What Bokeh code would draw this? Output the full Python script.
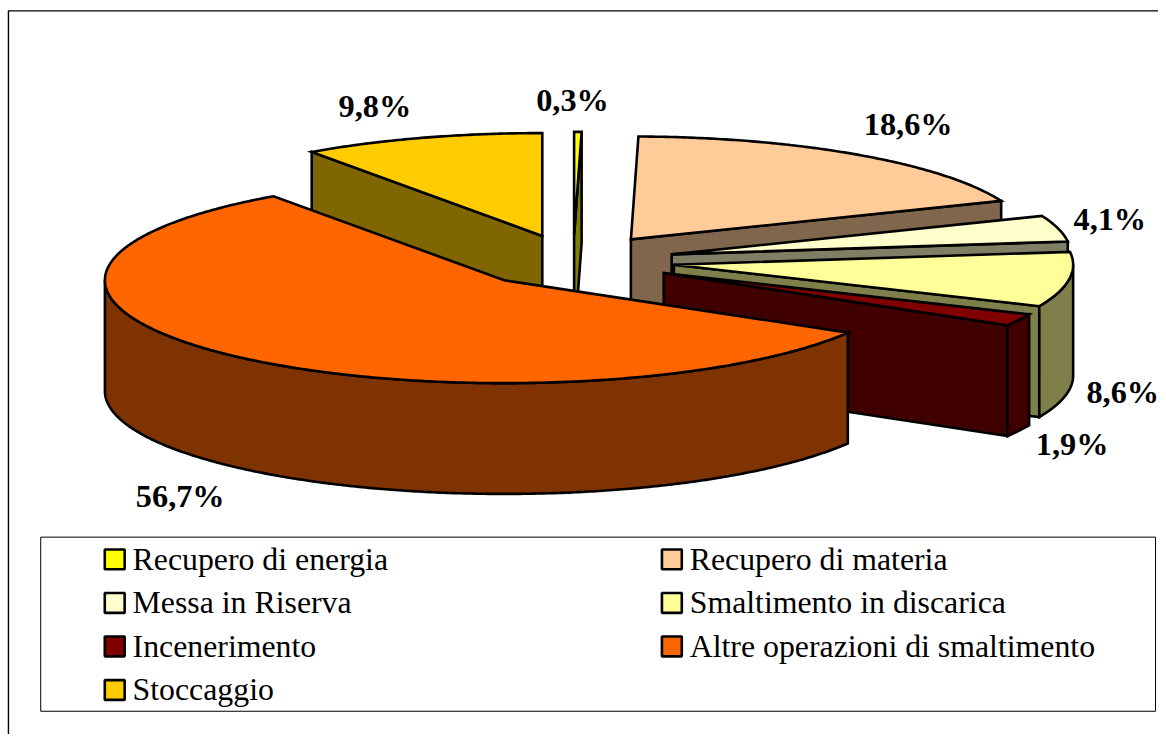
import math
from bokeh.plotting import figure
from bokeh.models import Range1d, ColumnDataSource
from bokeh.core.properties import value
from bokeh.embed import file_html
from bokeh.resources import INLINE

categories = ["Recupero di energia", "Recupero di materia", "Messa in Riserva",
              "Smaltimento in discarica", "Incenerimento",
              "Altre operazioni di smaltimento", "Stoccaggio"]
values = [0.3, 18.6, 4.1, 8.6, 1.9, 56.7, 9.8]
colors = ["#FFFF00", "#FFCC99", "#FFFFCC", "#FFFF99", "#800000", "#FF6600", "#FFCC00"]

# pie geometry (in the reference picture's pixels)
CX, CY, A, B, DEPTH, EXPLODE = 576.6, 263.3, 402, 104, 112, 0.255
LABEL_POS = [(576, 100.5), (914, 124.5), (1117, 220.5), (1130, 395.5), (1079, 448.5), (181, 500.5), (377, 106.5)]
LEG_X = [104, 665]
LEG_Y0, LEG_DY = 565, 44
FONT = value("Liberation Serif")

p = figure(width=1158, height=734, output_backend="svg", toolbar_location=None,
           x_range=Range1d(0, 1166), y_range=Range1d(742, 0),
           x_axis_type=None, y_axis_type=None, min_border=0,
           outline_line_color=None, background_fill_color="white")
p.grid.visible = False


def darker(c):
    return "#" + "".join("%02X" % (int(c[i:i + 2], 16) // 2) for i in (1, 3, 5))


def pt(cx, cy, deg, dz=0):
    t = math.radians(deg)
    return cx + A * math.sin(t), cy - B * math.cos(t) + dz


def arc(cx, cy, d0, d1, dz=0):
    n = max(2, int(abs(d1 - d0) * 2) + 1)
    return [pt(cx, cy, d0 + (d1 - d0) * i / (n - 1), dz) for i in range(n)]


total = sum(values)
slices, start = [], 0.0
for v, c in zip(values, colors):
    end = start + 360 * v / total
    t = math.radians((start + end) / 2)
    slices.append(dict(s=start, e=end, c=c,
                       ax=CX + EXPLODE * A * math.sin(t),
                       ay=CY - EXPLODE * B * math.cos(t)))
    start = end

xs, ys, fills = [], [], []


def add(points, col):
    xs.append([q[0] for q in points])
    ys.append([q[1] for q in points])
    fills.append(col)


for sl in sorted(slices, key=lambda d: d["ay"]):
    ax, ay, s, e, c = sl["ax"], sl["ay"], sl["s"], sl["e"], sl["c"]
    dark = darker(c)
    if 180 < s < 360:
        q = pt(ax, ay, s)
        add([(ax, ay), q, (q[0], q[1] + DEPTH), (ax, ay + DEPTH)], dark)
    if 0 < e < 180:
        q = pt(ax, ay, e)
        add([(ax, ay), q, (q[0], q[1] + DEPTH), (ax, ay + DEPTH)], dark)
    lo, hi = max(s, 90), min(e, 270)
    if lo < hi:
        add(arc(ax, ay, lo, hi) + arc(ax, ay, hi, lo, DEPTH), dark)
    add([(ax, ay)] + arc(ax, ay, s, e), c)

p.patches(xs="xs", ys="ys", fill_color="fills", line_color="black", line_width=2.6,
          line_join="miter", source=ColumnDataSource(dict(xs=xs, ys=ys, fills=fills)))

# percentage labels
p.text(x=[q[0] for q in LABEL_POS], y=[q[1] for q in LABEL_POS],
       text=[f"{v:.1f}%".replace(".", ",") for v in values],
       text_font=FONT, text_font_style="bold", text_font_size="32.3px",
       text_color="black", text_align="center", text_baseline="middle")

# outer frame
p.line([8, 8, 1166], [742, 10.5, 10.5], line_color="black", line_width=1.4)

# legend
p.line([40.5, 1163, 1163, 40.5, 40.5], [542.5, 542.5, 718.5, 718.5, 542.5],
       line_color="black", line_width=1)
lx = [LEG_X[i % 2] for i in range(len(categories))]
ly = [LEG_Y0 + LEG_DY * (i // 2) for i in range(len(categories))]
p.rect(x=[x + 11 for x in lx], y=ly, width=20, height=20, fill_color=colors,
       line_color="black", line_width=2.6)
p.text(x=[x + 29 for x in lx], y=ly, text=categories,
       text_font=FONT, text_font_size="31.8px", text_color="black",
       text_align="left", text_baseline="middle")

open("out.html", "w").write(file_html(p, INLINE))
